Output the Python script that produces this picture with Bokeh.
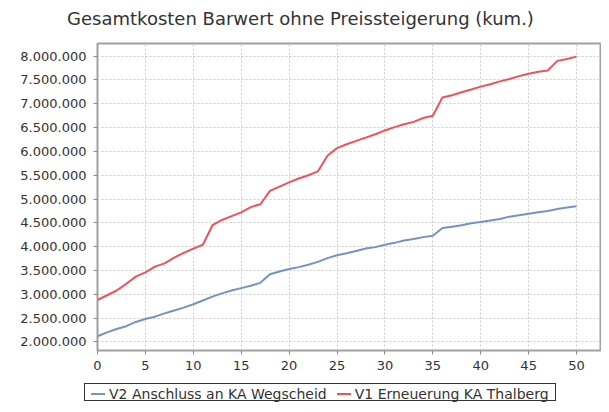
from bokeh.plotting import figure
from bokeh.models import Range1d, FixedTicker, CustomJSTickFormatter, Div
from bokeh.layouts import column
from bokeh.embed import file_html
from bokeh.resources import INLINE

title = "Gesamtkosten Barwert ohne Preissteigerung (kum.)"
years = list(range(0, 51))
v1_name = "V1 Erneuerung KA Thalberg"
v2_name = "V2 Anschluss an KA Wegscheid"
v1 = [2.88, 2.98, 3.08, 3.22, 3.37, 3.46, 3.58, 3.65, 3.77, 3.87,
      3.96, 4.04, 4.45, 4.56, 4.64, 4.72, 4.83, 4.89, 5.17, 5.26,
      5.35, 5.43, 5.50, 5.58, 5.91, 6.07, 6.15, 6.22, 6.29, 6.36,
      6.44, 6.51, 6.57, 6.62, 6.70, 6.75, 7.13, 7.18, 7.24, 7.30,
      7.36, 7.41, 7.47, 7.52, 7.58, 7.63, 7.67, 7.70, 7.90, 7.94,
      7.99]
v2 = [2.12, 2.20, 2.27, 2.33, 2.42, 2.48, 2.53, 2.60, 2.66, 2.72,
      2.79, 2.87, 2.95, 3.02, 3.08, 3.13, 3.18, 3.24, 3.42, 3.48,
      3.53, 3.57, 3.62, 3.68, 3.76, 3.82, 3.86, 3.91, 3.96, 3.99,
      4.04, 4.08, 4.13, 4.16, 4.20, 4.23, 4.39, 4.42, 4.45, 4.49,
      4.52, 4.55, 4.58, 4.63, 4.66, 4.69, 4.72, 4.75, 4.79, 4.82,
      4.85]
v1 = [v * 1e6 for v in v1]
v2 = [v * 1e6 for v in v2]
x_ticks = list(range(0, 51, 5))
y_ticks = list(range(2000000, 8000001, 500000))

FONT = "DejaVu Sans"
TXT = "#333333"
BLUE = "#7393c4"
RED = "#f0525a"

title_div = Div(width=601, height=30, margin=0, text=(
    '<div style="position:relative;width:601px;height:30px;">'
    '<div style="position:absolute;left:0;top:8px;width:601px;text-align:center;'
    f"font-family:'{FONT}';font-size:18px;line-height:22px;color:{TXT};"
    f'white-space:nowrap;">{title}</div></div>'))

p = figure(width=601, height=352, output_backend="svg", toolbar_location=None,
           x_range=Range1d(0, 52.5), y_range=Range1d(1.82e6, 8.265e6),
           min_border_left=97, min_border_right=1, min_border_top=13,
           min_border_bottom=32)

p.outline_line_color = "#a0a0a0"
p.outline_line_width = 2
p.background_fill_color = "white"
p.border_fill_color = "white"

for ax in (p.xaxis[0], p.yaxis[0]):
    ax.axis_line_color = "#a0a0a0"
    ax.axis_line_width = 1
    ax.major_tick_line_color = "#888888"
    ax.major_tick_out = 4
    ax.major_tick_in = 0
    ax.minor_tick_line_color = None
    ax.major_label_text_font = FONT
    ax.major_label_text_font_size = "13px"
    ax.major_label_text_color = TXT

p.xaxis.ticker = FixedTicker(ticks=x_ticks)
p.yaxis.ticker = FixedTicker(ticks=y_ticks)
p.yaxis.formatter = CustomJSTickFormatter(
    code=r"return tick.toFixed(0).replace(/\B(?=(\d{3})+(?!\d))/g, '.');")
p.xaxis.major_label_standoff = 6
p.yaxis.major_label_standoff = 7

p.grid.grid_line_color = "#cccccc"
p.grid.grid_line_dash = "2 2"
p.grid.grid_line_width = 1

p.line(years, v2, line_color=BLUE, line_width=2)
p.line(years, v1, line_color=RED, line_width=2)


def item(color, label):
    return (f'<span style="display:inline-block;width:14px;height:2px;background:{color};'
            f'vertical-align:middle;margin-right:4px;"></span>'
            f'<span style="vertical-align:middle;">{label}</span>')


legend_div = Div(width=601, height=22, margin=0, text=(
    '<div style="position:relative;width:601px;height:22px;">'
    '<div style="position:absolute;left:84px;top:1px;height:18px;line-height:18px;'
    'border:1px solid #333;padding:0 6px;white-space:nowrap;'
    f"font-family:'{FONT}';font-size:14px;color:{TXT};background:#fff;\">"
    + item(BLUE, v2_name)
    + '<span style="display:inline-block;width:10px;"></span>'
    + item(RED, v1_name)
    + '</div></div>'))

layout = column(title_div, p, legend_div, spacing=0)
open("out.html", "w").write(file_html(layout, INLINE))
